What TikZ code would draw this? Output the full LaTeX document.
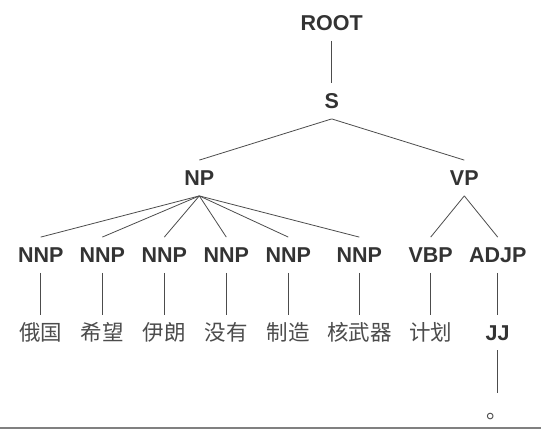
\documentclass[tikz,border=0pt]{standalone}
\usepackage{fontspec}
\setmainfont{Liberation Sans}
\newfontfamily\cjk{Noto Sans CJK SC}
\begin{document}
\begin{tikzpicture}[x=1pt,y=-1pt]
        \useasboundingbox (0,0) rectangle (541,431);
        \begin{scope}
            \begin{scope}[every node/.style={font=\bfseries\fontsize{21.5}{24}\selectfont,text=black!80,text height=15.4pt,text depth=0pt,inner xsep=0pt,inner ysep=10pt}]
              \node (root) at (331.7,23) {ROOT};
              \node (s) at (331.7,101) {S};
              \node (np) at (199.3,178) {NP};
              \node (vp) at (464.3,178) {VP};
              \node (n1) at (40.7,255) {NNP};
              \node (n2) at (102.3,255) {NNP};
              \node (n3) at (164.3,255) {NNP};
              \node (n4) at (226.3,255) {NNP};
              \node (n5) at (288.3,255) {NNP};
              \node (n6) at (359.3,255) {NNP};
              \node (vbp) at (430.7,255) {VBP};
              \node (adjp) at (497.7,255) {ADJP};
              \node (jj) at (497.7,332.5) {JJ};
            \end{scope}
            \begin{scope}[every node/.style={font=\cjk\fontsize{21.5}{24}\selectfont,text=black!70,text height=17pt,text depth=4pt,inner xsep=0pt,inner ysep=8pt}]
              \node (w1) at (40.7,333.5) {俄国};
              \node (w2) at (102.3,333.5) {希望};
              \node (w3) at (164.3,333.5) {伊朗};
              \node (w4) at (226.3,333.5) {没有};
              \node (w5) at (288.3,333.5) {制造};
              \node (w6) at (359.3,333.5) {核武器};
              \node (w7) at (430.7,333.5) {计划};
              \node (w8) at (497.7,411.5) {。};
            \end{scope}
            \begin{scope}[every edge/.style={draw=black!70,line width=0.8pt}]
                \path (root.south) edge (s.north)
                      (s.south) edge (np.north)
                      (s.south) edge (vp.north)
                      (np.south) edge (n1.north)
                      (np.south) edge (n2.north)
                      (np.south) edge (n3.north)
                      (np.south) edge (n4.north)
                      (np.south) edge (n5.north)
                      (np.south) edge (n6.north)
                      (vp.south) edge (vbp.north)
                      (vp.south) edge (adjp.north)
                      (n1.south) edge (w1.north)
                      (n2.south) edge (w2.north)
                      (n3.south) edge (w3.north)
                      (n4.south) edge (w4.north)
                      (n5.south) edge (w5.north)
                      (n6.south) edge (w6.north)
                      (vbp.south) edge (w7.north)
                      (adjp.south) edge (jj.north)
                      (jj.south) edge (w8.north);
            \end{scope}
        \end{scope}
        \draw[black!50,line width=2pt] (0,428) -- (541,428);
    \end{tikzpicture}
\end{document}
